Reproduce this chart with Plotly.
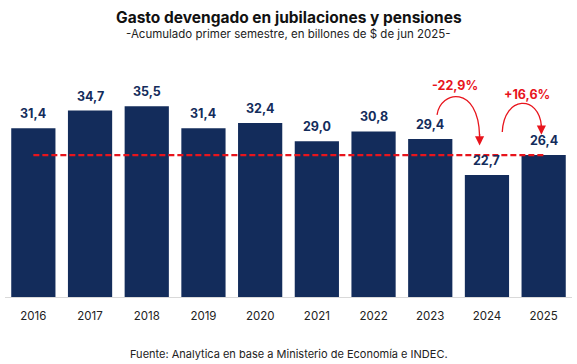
import plotly.graph_objects as go

years = ["2016", "2017", "2018", "2019", "2020", "2021", "2022", "2023", "2024", "2025"]
values = [31.4, 34.7, 35.5, 31.4, 32.4, 29.0, 30.8, 29.4, 22.7, 26.4]
labels = ["31,4", "34,7", "35,5", "31,4", "32,4", "29,0", "30,8", "29,4", "22,7", "26,4"]
ref_value = 26.4
changes = ["-22,9%", "+16,6%"]

NAVY = "#132c5b"
RED = "#e8141c"
FONT = "Inter, Noto Sans, sans-serif"

xs = list(range(len(years)))

fig = go.Figure()
fig.add_trace(go.Bar(x=xs, y=values, marker_color=NAVY, marker_line_width=0,
                     width=0.78, hoverinfo="skip"))
fig.add_trace(go.Scatter(x=[xs[0], xs[-1]], y=[ref_value, ref_value], mode="lines",
                         line=dict(color=RED, width=2.4, dash="6px,3px"), hoverinfo="skip"))

annotations = []
for x, v, t in zip(xs, values, labels):
    annotations.append(dict(x=x, y=v, text=f"<b>{t}</b>", showarrow=False, xref="x", yref="y",
                            yanchor="bottom", yshift=5,
                            font=dict(family=FONT, size=12.5, color=NAVY)))

# curved arrows (in data coordinates)
shapes = [
    dict(type="path", xref="x", yref="y",
         path="M 7.12,33.9 C 7.18,38.5 7.85,39.5 7.87,30.0",
         line=dict(color=RED, width=1.3)),
    dict(type="path", xref="x", yref="y",
         path="M 8.27,30.7 C 8.30,37.6 8.92,37.6 8.96,31.8",
         line=dict(color=RED, width=1.3)),
]
annotations += [
    dict(x=7.87, y=28.2, ax=7.87, ay=30.6, axref="x", ayref="y", xref="x", yref="y",
         text="", showarrow=True, arrowhead=2, arrowsize=1.4, arrowwidth=1.3, arrowcolor=RED),
    dict(x=8.96, y=30.2, ax=8.96, ay=32.4, axref="x", ayref="y", xref="x", yref="y",
         text="", showarrow=True, arrowhead=2, arrowsize=1.4, arrowwidth=1.3, arrowcolor=RED),
    dict(x=7.44, y=39.3, text=f"<b>{changes[0]}</b>", showarrow=False, xref="x", yref="y",
         font=dict(family=FONT, size=12.5, color=RED)),
    dict(x=8.71, y=37.6, text=f"<b>{changes[1]}</b>", showarrow=False, xref="x", yref="y",
         font=dict(family=FONT, size=12.5, color=RED)),
]

H = 364
def py(pix):
    # convert pixel y (from top) to paper coords
    return (H - 67 - pix) / (H - 60 - 67)

annotations.append(dict(x=0.5, y=py(17), xref="paper", yref="paper", yanchor="middle",
                        text="<b>Gasto devengado en jubilaciones y pensiones</b>",
                        showarrow=False, font=dict(family=FONT, size=15.5, color="#111111")))
annotations.append(dict(x=0.5, y=py(34), xref="paper", yref="paper", yanchor="middle",
                        text="-Acumulado primer semestre, en billones de $ de jun 2025-",
                        showarrow=False, font=dict(family=FONT, size=11.5, color="#222222")))
annotations.append(dict(x=0.5, y=py(354), xref="paper", yref="paper", yanchor="middle",
                        text="Fuente: Analytica en base a Ministerio de Economía e INDEC.",
                        showarrow=False, font=dict(family=FONT, size=11, color="#222222")))

fig.update_layout(
    width=577, height=364,
    margin=dict(l=5, r=5, t=60, b=67),
    paper_bgcolor="white", plot_bgcolor="white",
    showlegend=False,
    shapes=shapes,
    annotations=annotations,
    xaxis=dict(range=[-0.5, 9.5], tickvals=xs, ticktext=years, showgrid=False, zeroline=False,
               showline=True, linecolor="#d9d9d9", linewidth=1, ticks="", ticklen=0,
               ticklabelstandoff=8,
               tickfont=dict(family=FONT, size=11.5, color="#222222")),
    yaxis=dict(range=[0, 44.1], visible=False, showgrid=False, zeroline=False),
)

fig.write_html("out.html", config={"displayModeBar": False},
               post_script="document.body.style.margin='0';")
